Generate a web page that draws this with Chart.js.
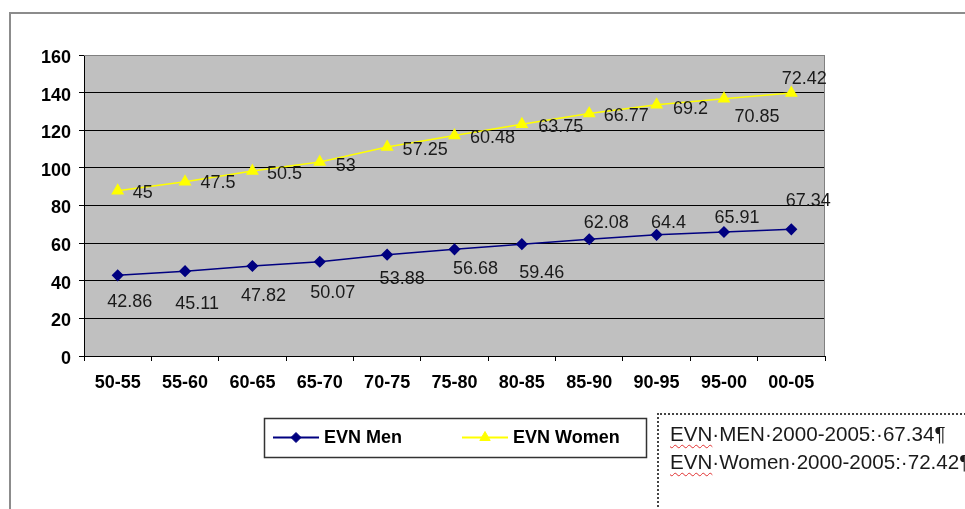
<!DOCTYPE html>
<html>
<head>
<meta charset="utf-8">
<script src="https://cdn.jsdelivr.net/npm/chart.js@4.4.1/dist/chart.umd.min.js"></script>
<style>
  body { margin: 0; background: #fff; overflow: hidden; }
  #wrap { position: relative; width: 965px; height: 509px; overflow: hidden; }
  #frame { position: absolute; left: 9px; top: 12px; width: 1000px; height: 600px;
           border-top: 2px solid #8c8c8c; border-left: 2px solid #8c8c8c; }
  #chart { position: absolute; left: 0; top: 0; }
  #note { position: absolute; left: 657px; top: 413px; width: 340px; height: 110px;
          box-sizing: border-box; border: 2px dotted #444; padding: 5px 0 0 11px;
          font: 20.6px "Liberation Sans", Arial, sans-serif; color: #1a1a1a;
          line-height: 28px; white-space: nowrap; }
  .sp { text-decoration: underline wavy #e03030; text-decoration-thickness: 1px; text-underline-offset: 3px; }
</style>
</head>
<body>
<div id="wrap">
  <div id="frame"></div>
  <canvas id="chart" width="965" height="509"></canvas>
  <div id="note">
    <div><span class="sp">EVN</span>·MEN·2000-2005:·67.34¶</div>
    <div><span class="sp">EVN</span>·Women·2000-2005:·72.42¶</div>
  </div>
</div>
<script>
// data
const periods = ['50-55', '55-60', '60-65', '65-70', '70-75', '75-80', '80-85', '85-90', '90-95', '95-00', '00-05'];
const menValues = [42.86, 45.11, 47.82, 50.07, 53.88, 56.68, 59.46, 62.08, 64.4, 65.91, 67.34];
const womenValues = [45, 47.5, 50.5, 53, 57.25, 60.48, 63.75, 66.77, 69.2, 70.85, 72.42];
const seriesNames = ['EVN Men', 'EVN Women'];
const yMax = 160;
const yStep = 20;

// where each value label sits relative to its point (dx, dy)
const menLabelOffsets = [[12, 27], [12, 33], [11, 30], [13, 31], [15, 24], [21, 20], [20, 29], [17, -16], [12, -12], [13, -14], [17, -28]];
const womenLabelOffsets = [[25, 2], [33, 1], [32, 3], [26, 4], [38, 3], [38, 2], [39, 3], [37, 2], [34, 4], [33, 18], [13, -14]];

const FONT = '"Liberation Sans", Arial, sans-serif';

const plotBackground = {
  id: 'plotBackground',
  beforeDraw(chart) {
    const { ctx, chartArea: a } = chart;
    ctx.save();
    ctx.fillStyle = '#c0c0c0';
    ctx.fillRect(a.left, a.top, a.right - a.left, a.bottom - a.top);
    ctx.restore();
  },
  beforeDatasetsDraw(chart) {
    const { ctx, chartArea: a } = chart;
    ctx.save();
    ctx.strokeStyle = '#808080';
    ctx.lineWidth = 1;
    ctx.beginPath();
    ctx.moveTo(a.left, a.top + 0.5);
    ctx.lineTo(a.right - 0.5, a.top + 0.5);
    ctx.lineTo(a.right - 0.5, a.bottom);
    ctx.stroke();
    ctx.restore();
  }
};

const pointLabels = {
  id: 'pointLabels',
  afterDatasetsDraw(chart, args, opts) {
    const ctx = chart.ctx;
    ctx.save();
    ctx.font = '18px ' + FONT;
    ctx.fillStyle = '#1a1a1a';
    ctx.textAlign = 'center';
    ctx.textBaseline = 'middle';
    chart.data.datasets.forEach((ds, di) => {
      const meta = chart.getDatasetMeta(di);
      const offs = opts.offsets[di];
      meta.data.forEach((pt, i) => {
        ctx.fillText(String(ds.data[i]), pt.x + offs[i][0], pt.y + offs[i][1]);
      });
    });
    ctx.restore();
  }
};

const legendBox = {
  id: 'legendBox',
  afterDraw(chart) {
    const { ctx, chartArea: a } = chart;
    const w = 382, h = 39;
    const x0 = Math.round((a.left + a.right) / 2 - w / 2);
    const y0 = a.bottom + 62;
    ctx.save();
    ctx.strokeStyle = '#333';
    ctx.lineWidth = 1.5;
    ctx.strokeRect(x0 + 0.5, y0 + 0.5, w, h);
    chart.data.datasets.forEach((ds, i) => {
      const lx = x0 + 9 + i * 189;
      const ly = y0 + h / 2;
      ctx.strokeStyle = ds.borderColor;
      ctx.lineWidth = 2;
      ctx.beginPath();
      ctx.moveTo(lx, ly);
      ctx.lineTo(lx + 46, ly);
      ctx.stroke();
      ctx.fillStyle = ds.pointBackgroundColor;
      ctx.strokeStyle = ds.pointBorderColor;
      ctx.lineWidth = 1;
      Chart.helpers.drawPoint(ctx, { pointStyle: ds.pointStyle, radius: ds.pointRadius, borderWidth: 1 }, lx + 23, ly);
      ctx.fillStyle = '#000';
      ctx.font = 'bold 18px ' + FONT;
      ctx.textAlign = 'left';
      ctx.textBaseline = 'middle';
      ctx.fillText(ds.label, lx + 51, ly + 1);
    });
    ctx.restore();
  }
};

new Chart(document.getElementById('chart'), {
  type: 'line',
  data: {
    labels: periods,
    datasets: [{
      label: seriesNames[0],
      data: menValues,
      borderColor: '#000080',
      borderWidth: 1.5,
      pointStyle: 'rectRot',
      pointRadius: 5,
      pointBackgroundColor: '#000080',
      pointBorderColor: '#000080',
      fill: false,
      tension: 0
    }, {
      label: seriesNames[1],
      data: womenValues,
      borderColor: '#ffff00',
      borderWidth: 1.5,
      pointStyle: 'triangle',
      pointRadius: 6,
      pointBackgroundColor: '#ffff00',
      pointBorderColor: '#ffff00',
      fill: false,
      tension: 0
    }]
  },
  options: {
    responsive: false,
    animation: false,
    layout: { padding: { left: 0, top: 55, right: 140, bottom: 0 } },
    plugins: {
      legend: { display: false },
      tooltip: { enabled: false },
      pointLabels: { offsets: [menLabelOffsets, womenLabelOffsets] }
    },
    scales: {
      x: {
        offset: true,
        grid: { offset: true, drawOnChartArea: false, tickLength: 5, color: '#000' },
        border: { color: '#000', width: 1 },
        ticks: { color: '#000', font: { family: FONT, size: 18, weight: 'bold' }, padding: 11, maxRotation: 0 },
        afterFit(scale) { scale.height = 153; }
      },
      y: {
        stacked: true,
        min: 0,
        max: yMax,
        ticks: { stepSize: yStep, color: '#000', font: { family: FONT, size: 18, weight: 'bold' }, padding: 8, labelOffset: 3 },
        grid: {
          tickLength: 5,
          tickColor: '#000',
          color: c => (c.tick && c.tick.value === yMax ? '#808080' : '#000'),
          lineWidth: 1
        },
        border: { color: '#000', width: 1 },
        afterFit(scale) { scale.width = 84; }
      }
    }
  },
  plugins: [plotBackground, pointLabels, legendBox]
});
</script>
</body>
</html>
